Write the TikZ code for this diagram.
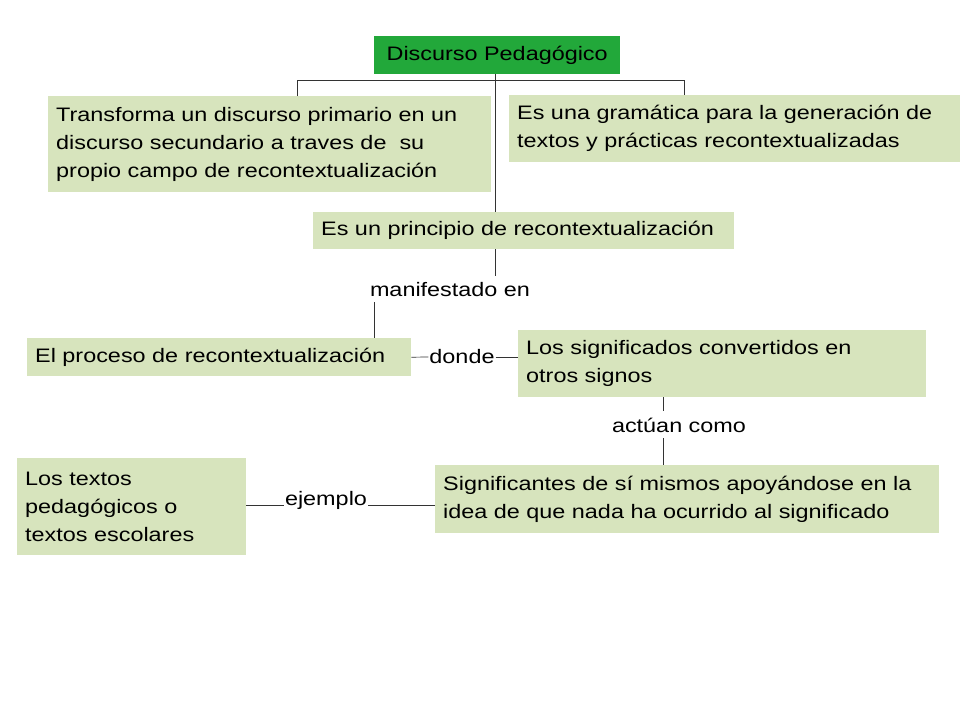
\documentclass[tikz,border=0pt]{standalone}
\usepackage{fontspec}
\setmainfont[FakeStretch=1.2]{Liberation Sans}
\begin{document}
\begin{tikzpicture}[x=1pt,y=-1pt,
  box/.style={fill=boxc,inner sep=8pt,anchor=north west,align=left,font=\fontsize{19.5}{28}\selectfont},
  lbl/.style={inner sep=1pt,font=\fontsize{19.5}{28}\selectfont},
  ln/.style={draw=black!80,line width=0.7pt}]
\definecolor{boxc}{HTML}{D7E4BD}
\definecolor{grn}{HTML}{22A83A}
\useasboundingbox (0,0) rectangle (960,720);
\def\bx#1#2#3#4#5#6{\node[box,text width=#4-16,minimum width=#4,minimum height=#5] (#1) at (#2,#3) {#6};}
\node[box,fill=grn,text width=230,minimum width=246,minimum height=38,align=center] (dp) at (374,36) {Discurso Pedagógico};
\bx{b1}{48}{96}{443}{96}{Transforma un discurso primario en un\\discurso secundario a traves de\ \ su\\propio campo de recontextualización}
\bx{b2}{509}{95}{451}{67}{Es una gramática para la generación de\\textos y prácticas recontextualizadas}
\bx{b3}{313}{212}{421}{37}{Es un principio de recontextualización}
\bx{b4}{27}{338}{384}{38}{El proceso de recontextualización}
\bx{b5}{518}{330}{408}{67}{Los significados convertidos en\\otros signos}
\bx{b6}{435}{465}{504}{68}{Significantes de sí mismos apoyándose en la\\idea de que nada ha ocurrido al significado}
\bx{b7}{17}{458}{229}{97}{Los textos\\pedagógicos o\\textos escolares}
\node[lbl] (m) at (450,290) {manifestado en};
\node[lbl] (d) at (462,357) {donde};
\node[lbl] (a) at (679,425) {actúan como};
\node[lbl] (e) at (326,500) {ejemplo};
\draw[ln] (dp.south -| 495,0) -- (b3.north -| 495,0);
\draw[ln] (b1.north -| 297,0) -- (297,80) -- (684,80) -- (b2.north -| 684,0);
\draw[ln] (b3.south -| 495,0) -- (495,276);
\draw[ln] (374,302) -- (b4.north -| 374,0);
\draw[ln] (b4.east) -- (d.west);
\draw[ln] (d.east) -- (b5.west |- d.east);
\draw[ln] (b5.south -| 663,0) -- (663,411);
\draw[ln] (663,438) -- (b6.north -| 663,0);
\draw[ln] (b7.east |- 0,505) -- (e.west |- 0,505);
\draw[ln] (e.east |- 0,505) -- (b6.west |- 0,505);
\end{tikzpicture}
\end{document}
